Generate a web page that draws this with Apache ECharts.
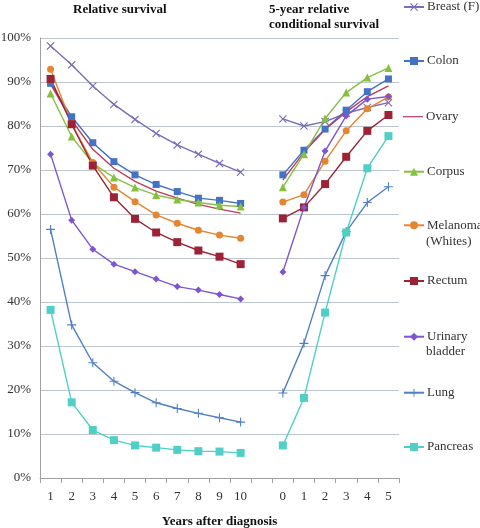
<!DOCTYPE html>
<html>
<head>
<meta charset="utf-8">
<script src="https://cdn.jsdelivr.net/npm/echarts@6/dist/echarts.min.js"></script>
<style>html,body{margin:0;padding:0;background:#fff}#c{width:480px;height:528px}</style>
</head>
<body>
<div id="c"></div>
<script>
var categories = ['1','2','3','4','5','6','7','8','9','10','','0','1','2','3','4','5'];
var yTicks = ['0%','10%','20%','30%','40%','50%','60%','70%','80%','90%','100%'];
var seriesNames = ['Breast (F)','Colon','Ovary','Corpus','Melanoma (Whites)','Rectum','Urinary bladder','Lung','Pancreas'];
var breast   = [98.2,93.9,89.1,84.9,81.5,78.3,75.7,73.6,71.5,69.5,null,81.6,80.0,81.0,82.9,84.2,85.3];
var colon    = [89.7,82.1,76.2,71.9,68.9,66.7,65.1,63.6,63.1,62.4,null,68.9,74.5,79.3,83.6,87.8,90.7];
var ovary    = [89.5,81.3,74.7,70.4,67.4,65.2,63.6,62.2,61.1,60.2,null,67.7,74.0,79.2,83.2,86.7,89.1];
var corpus   = [87.4,77.6,71.5,68.3,66.0,64.3,63.3,62.6,62.0,61.7,null,66.1,73.6,81.7,87.6,91.0,93.2];
var melanoma = [92.9,80.5,71.7,66.1,62.8,59.8,57.9,56.3,55.2,54.5,null,62.7,64.4,72.0,78.9,83.9,86.6];
var rectum   = [90.7,80.4,71.0,63.8,58.9,55.8,53.6,51.7,50.3,48.6,null,59.0,61.5,66.8,73.0,78.9,82.5];
var bladder  = [73.6,58.6,52.0,48.6,46.9,45.2,43.5,42.7,41.7,40.7,null,46.8,61.5,74.3,82.3,86.1,86.7];
var lung     = [56.5,34.8,26.2,22.0,19.4,17.1,15.8,14.7,13.7,12.7,null,19.3,30.6,46.0,56.0,62.6,66.2];
var pancreas = [38.2,17.2,10.9,8.6,7.4,6.9,6.4,6.1,6.0,5.7,null,7.4,18.2,37.6,55.8,70.4,77.7];

var values = [breast,colon,ovary,corpus,melanoma,rectum,bladder,lung,pancreas];
var colors = ['#7a6cb8','#4472c4','#c0395f','#86c040','#e6852f','#9c2336','#7d55d2','#4f7fc4','#4fcfc6'];
var crossPath = 'path://M0,1L1,0L5,4L9,0L10,1L6,5L10,9L9,10L5,6L1,10L0,9L4,5Z';
var plusPath = 'path://M4.4,0H5.6V4.4H10V5.6H5.6V10H4.4V5.6H0V4.4H4.4Z';
var symbols = [crossPath,'rect','none','triangle','circle','rect','diamond',plusPath,'rect'];
var sizes = [8,7,0,8,7,8,7,9,8];
var legendY = [6,60,115.7,170.7,224.3,280,335.7,391.7,446];
var serif = "'Liberation Serif','Times New Roman',serif";

var series = seriesNames.map(function(n,i){
  return {
    name:n, type:'line', data:values[i], connectNulls:false,
    symbol:symbols[i], symbolSize:sizes[i], showSymbol:symbols[i]!=='none',
    lineStyle:{color:colors[i], width:1.4},
    itemStyle:{color:colors[i]},
    emphasis:{disabled:true}, animation:false
  };
});

var legends = seriesNames.map(function(n,i){
  var item = (n==='Ovary') ? {name:n, icon:'path://M0,4.4H20V5.6H0Z'} : n;
  return {
    data:[item], orient:'vertical', left:403, top:legendY[i]-7, padding:0,
    itemWidth:20, itemHeight:10, itemGap:0, selectedMode:false,
    formatter:function(name){
      if(name==='Melanoma (Whites)') return 'Melanoma';
      if(name==='Urinary bladder') return 'Urinary';
      return name;
    },
    textStyle:{fontFamily:serif, fontSize:13, color:'#333', lineHeight:16, padding:[0,0,0,-2]}
  };
});

var chart = echarts.init(document.getElementById('c'), null, {renderer:'canvas'});
chart.setOption({
  animation:false,
  backgroundColor:'#fff',
  grid:{left:40, right:81, top:38, bottom:50, outerBoundsMode:'none', containLabel:false},
  legend:legends,
  xAxis:{
    type:'category', data:categories, boundaryGap:true,
    axisLine:{lineStyle:{color:'#a0a0a0'}},
    axisTick:{show:true, interval:0, length:5, lineStyle:{color:'#a0a0a0'}},
    axisLabel:{interval:0, margin:12, fontFamily:serif, fontSize:13, color:'#333'},
    name:'Years after diagnosis', nameLocation:'middle', nameGap:37,
    nameTextStyle:{fontFamily:serif, fontSize:13, fontWeight:'bold', color:'#111'}
  },
  yAxis:{
    type:'value', min:0, max:100, interval:10,
    axisLine:{show:true, lineStyle:{color:'#a0a0a0'}},
    axisTick:{show:false},
    splitLine:{lineStyle:{color:'#bcc6cc', width:1}},
    axisLabel:{margin:9, fontFamily:serif, fontSize:13, color:'#333',
      formatter:function(v){ return yTicks[Math.round(v/10)]; }}
  },
  graphic:[
    {type:'text', left:73, top:3, style:{text:'Relative survival', font:"bold 13px "+serif, fill:'#111'}},
    {type:'text', left:269, top:2, style:{text:'5-year relative\nconditional survival', font:"bold 13px "+serif, fill:'#111', lineHeight:15}},
    {type:'text', left:426, top:235, style:{text:'(Whites)', font:"13px "+serif, fill:'#333'}},
    {type:'text', left:426, top:345, style:{text:'bladder', font:"13px "+serif, fill:'#333'}}
  ],
  series:series
});
</script>
</body>
</html>
